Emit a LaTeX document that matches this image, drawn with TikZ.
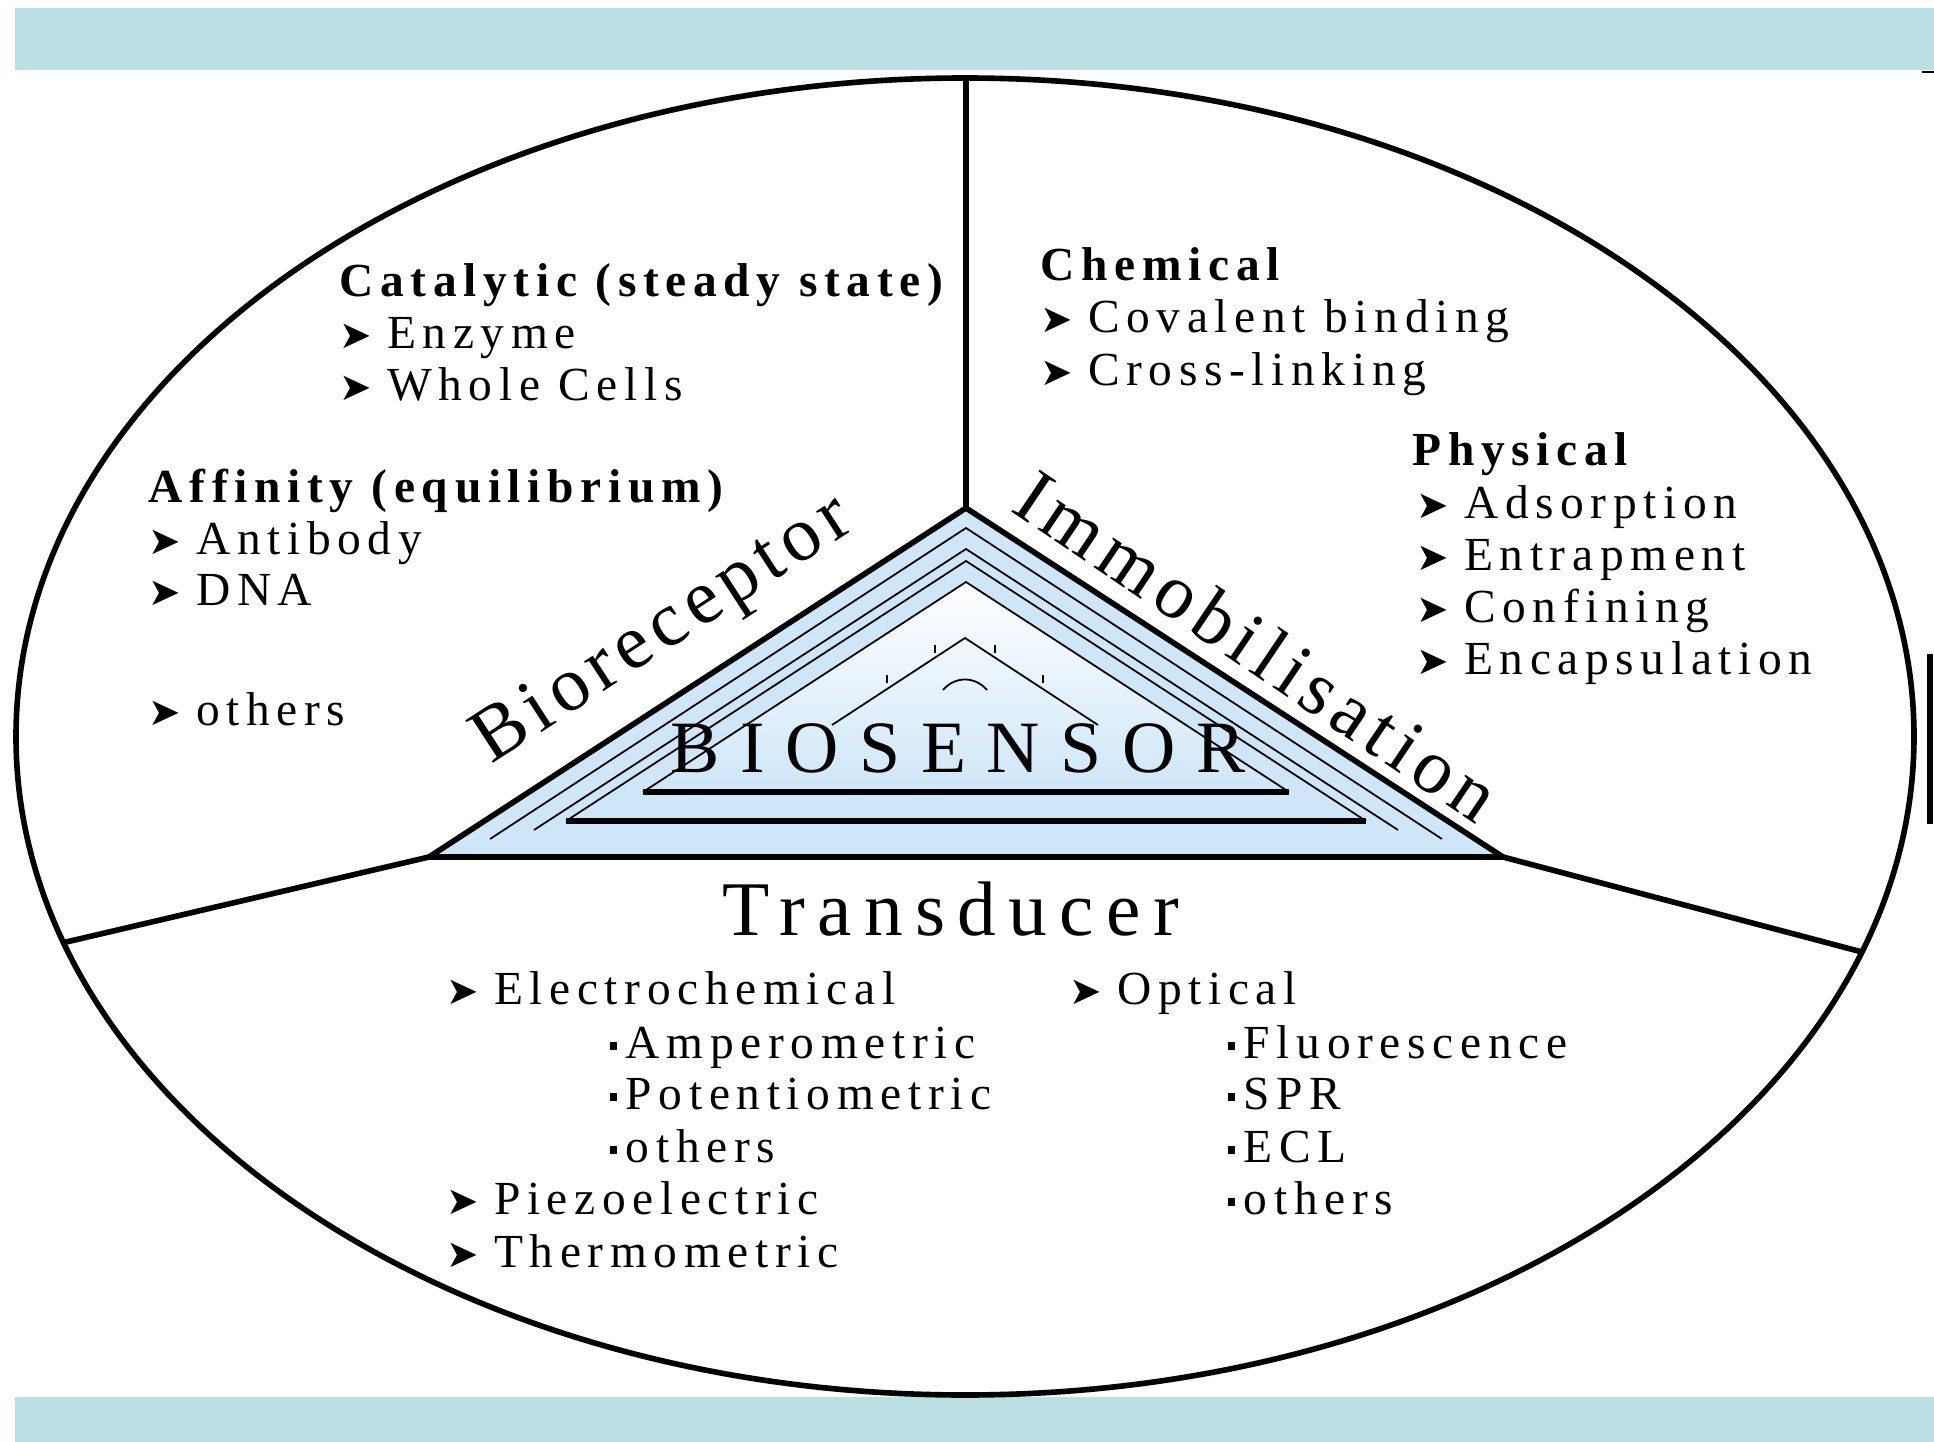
\documentclass[tikz,border=0pt]{standalone}
\usepackage{fontspec}
\setmainfont{Liberation Serif}
\newfontfamily\lsp{Liberation Serif}[LetterSpace=14]
\newfontfamily\bigsp{Liberation Serif}[LetterSpace=16]
\newfontfamily\edgesp{Liberation Serif}[LetterSpace=9]
\newfontfamily\widesp{Liberation Serif}[LetterSpace=28]
\newfontfamily\sym{DejaVu Sans}
\definecolor{band}{RGB}{187,224,227}
\definecolor{trifill}{RGB}{206,230,248}
\newcommand{\arr}{\makebox[13.5pt][l]{\sym\fontsize{11}{11}\selectfont ➤}}
\newcommand{\sqb}{\makebox[4.6pt][l]{\rule[2.4pt]{2.2pt}{2.2pt}}}

\begin{document}
\begin{tikzpicture}
	[x=0.1mm, y=-0.1mm, every node/.style={inner sep=0pt},
	 body/.style={anchor=base west, font=\lsp\fontsize{13.5}{16}\selectfont},
	 heading/.style={body, font=\lsp\bfseries\fontsize{13.5}{16}\selectfont},
	 edgelabel/.style={font=\edgesp\fontsize{22}{26}\selectfont},
	 heavy/.style={line width=1.6pt}, fineline/.style={line width=0.5pt}]
	\useasboundingbox (0,0) rectangle (1934,1442);
	\fill[band] (15,8) rectangle (1934,70);
	\fill[band] (15,1397) rectangle (1934,1442);
	
	\coordinate (c) at (965,736.5);
	\coordinate (top) at (966,78);
	\coordinate (apex) at (966,508);
	\coordinate (bl) at (429,857);
	\coordinate (br) at (1503,857);
	\coordinate (lend) at (62,943);
	\coordinate (rend) at (1862,952);
	
	\draw[heavy] (c) ellipse [x radius=949, y radius=658.5];
	
	% the triangle
	\fill[trifill] (apex) -- (bl) -- (br) -- cycle;
	\shade[top color=white, bottom color=trifill] (966,582) -- (643,792) -- (1289,792) -- cycle;
	\draw[fineline] (490,839) -- (966,528) -- (1442,839);
	\draw[fineline] (534,830) -- (966,549) -- (1398,830);
	\draw[fineline] (566,821) -- (966,561) -- (1366,821);
	\draw[heavy] (566,821) -- (1366,821);
	\draw[fineline] (643,792) -- (966,582) -- (1289,792);
	\draw[heavy] (643,792) -- (1289,792);
	\draw[fineline] (832,725) -- (965,638) -- (1098,725);
	\draw[fineline] (943,690) .. controls (955,676) and (975,676) .. (987,690);
	\foreach \x/\y in {935/645, 995/645, 887/675, 1043/675}
		\draw[fineline] (\x,\y) -- ++(0,8);
	\draw[heavy] (bl) -- (apex) -- (br) -- cycle;
	
	\draw[heavy] (apex) -- (top);
	\draw[heavy] (bl) -- (lend);
	\draw[heavy] (br) -- (rend);
	\draw[heavy] (1930,654) -- (1930,824);
	\draw[fineline] (1922,72) -- (1934,72);
	
	\node[edgelabel, rotate=33] (bio) at (664,632) {Bioreceptor};
	\node[edgelabel, rotate=-34] (immo) at (1258,646) {Immobilisation};
	\node[anchor=base, font=\widesp\fontsize{21}{25}\selectfont] (biosensor) at (958,772) {BIOSENSOR};
	\node[anchor=base west, font=\bigsp\fontsize{22}{26}\selectfont] (trans) at (722,935) {Transducer};
	
	% bioreceptor sector
	\node[heading] (cat) at (339,296) {Catalytic (steady state)};
	\node[body] (enz) at (339,348) {\arr Enzyme};
	\node[body] (cells) at (339,400) {\arr Whole Cells};
	\node[heading] (aff) at (148,502) {Affinity (equilibrium)};
	\node[body] (ab) at (148,554) {\arr Antibody};
	\node[body] (dna) at (148,605) {\arr DNA};
	\node[body] (oth1) at (148,725) {\arr others};
	
	% immobilisation sector
	\node[heading] (chem) at (1040,280) {Chemical};
	\node[body] (cov) at (1040,332) {\arr Covalent binding};
	\node[body] (cross) at (1040,385) {\arr Cross-linking};
	\node[heading] (phys) at (1412,465) {Physical};
	\node[body] (ads) at (1416,518) {\arr Adsorption};
	\node[body] (entr) at (1416,570) {\arr Entrapment};
	\node[body] (conf) at (1416,622) {\arr Confining};
	\node[body] (encap) at (1416,674) {\arr Encapsulation};
	
	% transducer sector
	\node[body] (elec) at (446,1004) {\arr Electrochemical};
	\node[body] (amp) at (609,1058) {\sqb Amperometric};
	\node[body] (pot) at (609,1109) {\sqb Potentiometric};
	\node[body] (oth2) at (609,1162) {\sqb others};
	\node[body] (piezo) at (446,1214) {\arr Piezoelectric};
	\node[body] (thermo) at (446,1267) {\arr Thermometric};
	\node[body] (opt) at (1069,1004) {\arr Optical};
	\node[body] (fluo) at (1227,1058) {\sqb Fluorescence};
	\node[body] (spr) at (1227,1109) {\sqb SPR};
	\node[body] (ecl) at (1227,1162) {\sqb ECL};
	\node[body] (oth3) at (1227,1214) {\sqb others};
\end{tikzpicture}
\end{document}
